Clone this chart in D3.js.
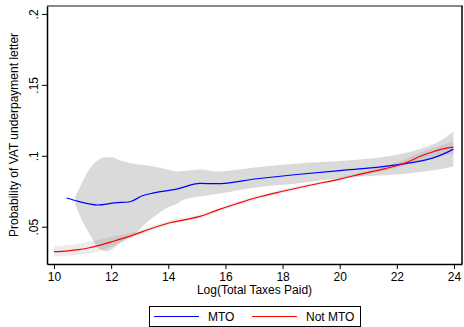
<!DOCTYPE html>
<html lang="en">
<head>
<meta charset="UTF-8">
<title>MTO vs Not MTO</title>
<script src="https://cdn.jsdelivr.net/npm/d3@7/dist/d3.min.js"></script>
<style>
  body { margin: 0; background: #fff; }
  text { font-family: "Liberation Sans", Arial, sans-serif; }
</style>
</head>
<body>
<div id="container"></div>
<script>
    const width = 464;
    const height = 327;
    const margin = { top: 6, left: 47, right: 2, bottom: 63 };

    // MTO fitted line
    const mtoX = [10.44, 10.85, 11.52, 12.13, 12.66, 13.07, 13.5, 14.29, 15.11, 15.69, 17.1, 18.5, 20, 20.9, 22.29, 22.8, 23.22, 23.6, 23.98];
    const mtoY = [0.0702, 0.0678, 0.0653, 0.0668, 0.0676, 0.0716, 0.0738, 0.0765, 0.0805, 0.0803, 0.0838, 0.0868, 0.0896, 0.0911, 0.0945, 0.0962, 0.0982, 0.1010, 0.1047];
    // MTO confidence band
    const mtoBandX = [10.75, 10.97, 11.26, 11.55, 11.67, 11.8, 12.02, 12.31, 12.66, 12.78, 13.36, 14.06, 14.29, 14.53, 15.11, 15.69, 17.1, 18.5, 20.5, 20.9, 22.29, 23.22, 23.6, 23.98];
    const mtoLow = [0.0655, 0.0549, 0.0444, 0.0350, 0.0335, 0.0326, 0.0340, 0.0385, 0.0430, 0.0444, 0.0549, 0.0643, 0.0660, 0.0690, 0.0713, 0.0730, 0.0778, 0.0805, 0.0852, 0.0855, 0.0873, 0.0896, 0.0908, 0.0925];
    const mtoHigh = [0.0715, 0.0807, 0.0913, 0.0970, 0.0984, 0.0990, 0.0990, 0.0968, 0.0948, 0.0944, 0.0930, 0.0900, 0.0890, 0.0893, 0.0904, 0.0890, 0.0920, 0.0945, 0.0970, 0.0977, 0.1019, 0.1077, 0.1115, 0.1171];

    // Not MTO fitted line
    const notX = [10.0, 10.5, 10.85, 11.2, 11.55, 12.13, 12.72, 13.36, 14.06, 14.6, 15.11, 15.69, 16.39, 17.1, 18, 19, 20, 20.89, 21.6, 22.29, 22.87, 23.3, 23.57, 23.98];
    const notY = [0.0324, 0.0330, 0.0338, 0.0350, 0.0366, 0.0401, 0.0437, 0.0484, 0.0528, 0.0550, 0.0573, 0.0615, 0.0662, 0.0706, 0.0750, 0.0794, 0.0836, 0.0878, 0.0910, 0.0949, 0.1000, 0.1030, 0.1047, 0.1061];
    // Not MTO confidence band
    const notBandX = [10.0, 11.0, 11.55, 12.13, 12.72, 13.36, 14.06, 15.11, 16.39, 18, 20, 21, 22, 23, 23.5, 23.98];
    const notLow = [0.0290, 0.0305, 0.0326, 0.0370, 0.0420, 0.0470, 0.0515, 0.0561, 0.0650, 0.0738, 0.0824, 0.0870, 0.0915, 0.0975, 0.1000, 0.1010];
    const notHigh = [0.0361, 0.0385, 0.0408, 0.0435, 0.0458, 0.0498, 0.0545, 0.0585, 0.0674, 0.0762, 0.0848, 0.0898, 0.0955, 0.1035, 0.1070, 0.1100];

    const xTicks = [10, 12, 14, 16, 18, 20, 22, 24];
    const yTicks = [0.05, 0.1, 0.15, 0.2];
    const yTickLabels = ['.05', '.1', '.15', '.2'];
    const legendNames = ['MTO', 'Not MTO'];
    const legendColors = ['#0000ff', '#ff0000'];

    const x = d3.scaleLinear().domain([9.755, 24.28]).range([margin.left, width - margin.right]);
    const y = d3.scaleLinear().domain([0.0237, 0.2056]).range([height - margin.bottom, margin.top]);

    const svg = d3.select('#container').append('svg')
        .attr('width', width)
        .attr('height', height);

    const area = d3.area()
        .x(d => x(d[0]))
        .y0(d => y(d[1]))
        .y1(d => y(d[2]));

    const line = d3.line()
        .curve(d3.curveMonotoneX)
        .x(d => x(d[0]))
        .y(d => y(d[1]));

    const plot = svg.append('g');

    // bands
    plot.append('path')
        .datum(mtoBandX.map((v, i) => [v, mtoLow[i], mtoHigh[i]]))
        .attr('fill', '#000')
        .attr('fill-opacity', 0.145)
        .attr('d', area.curve(d3.curveMonotoneX));

    plot.append('path')
        .datum(notBandX.map((v, i) => [v, notLow[i], notHigh[i]]))
        .attr('fill', '#000')
        .attr('fill-opacity', 0.075)
        .attr('d', area.curve(d3.curveMonotoneX));

    // lines
    plot.append('path')
        .datum(mtoX.map((v, i) => [v, mtoY[i]]))
        .attr('fill', 'none')
        .attr('stroke', legendColors[0])
        .attr('stroke-width', 1.2)
        .attr('d', line);

    plot.append('path')
        .datum(notX.map((v, i) => [v, notY[i]]))
        .attr('fill', 'none')
        .attr('stroke', legendColors[1])
        .attr('stroke-width', 1.2)
        .attr('d', line);

    // frame: grey top, black right
    const x0 = margin.left, x1 = width - margin.right, y0 = margin.top, y1 = height - margin.bottom;
    svg.append('line').attr('x1', x0).attr('x2', x1 + 1).attr('y1', y0).attr('y2', y0)
        .attr('stroke', '#888').attr('stroke-width', 2);
    svg.append('line').attr('x1', x1).attr('x2', x1).attr('y1', y0).attr('y2', y1)
        .attr('stroke', '#000').attr('stroke-width', 1.5);

    // axes
    const gx = svg.append('g')
        .attr('transform', `translate(0,${y1})`)
        .call(d3.axisBottom(x).tickValues(xTicks).tickSize(5).tickPadding(3).tickSizeOuter(0));
    gx.select('.domain').attr('stroke-width', 1.5);
    gx.selectAll('.tick text').attr('font-size', 12).attr('fill', '#000')
        .attr('font-family', '"Liberation Sans", Arial, sans-serif');

    const gy = svg.append('g')
        .attr('transform', `translate(${x0},0)`)
        .call(d3.axisLeft(y).tickValues(yTicks).tickSize(5).tickSizeOuter(0)
            .tickFormat((d, i) => yTickLabels[i]));
    gy.select('.domain').attr('stroke-width', 1.5);
    gy.selectAll('.tick text')
        .attr('font-size', 12).attr('fill', '#000')
        .attr('font-family', '"Liberation Sans", Arial, sans-serif')
        .attr('text-anchor', 'middle')
        .attr('x', null).attr('dy', null)
        .attr('transform', 'translate(-9.5,0) rotate(-90)');

    // axis titles
    svg.append('text')
        .attr('x', (x0 + x1) / 2)
        .attr('y', 294)
        .attr('text-anchor', 'middle')
        .attr('font-size', 12)
        .text('Log(Total Taxes Paid)');

    svg.append('text')
        .attr('transform', `translate(18,${(y0 + y1) / 2}) rotate(-90)`)
        .attr('text-anchor', 'middle')
        .attr('font-size', 12)
        .text('Probability of VAT underpayment letter');

    // legend
    const legend = svg.append('g');
    legend.append('rect')
        .attr('x', 149.5).attr('y', 306.5)
        .attr('width', 211).attr('height', 20)
        .attr('fill', '#fff').attr('stroke', '#000').attr('stroke-width', 1);

    const legendX = [154, 252];
    legendNames.forEach((name, i) => {
        legend.append('line')
            .attr('x1', legendX[i]).attr('x2', legendX[i] + 45)
            .attr('y1', 316.5).attr('y2', 316.5)
            .attr('stroke', legendColors[i]).attr('stroke-width', 1.2);
        legend.append('text')
            .attr('x', legendX[i] + 54)
            .attr('y', 320.5)
            .attr('font-size', 12)
            .text(name);
    });
</script>
</body>
</html>
